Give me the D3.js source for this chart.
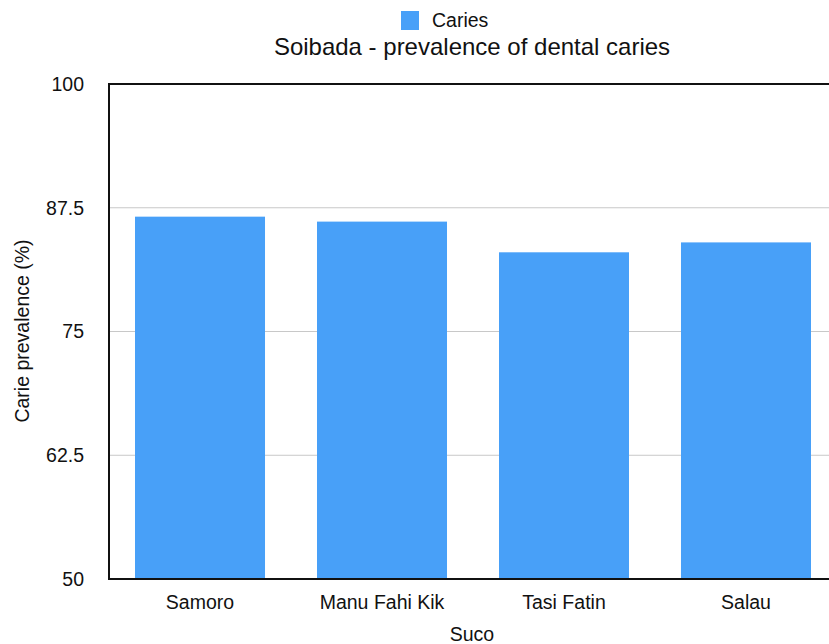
<!DOCTYPE html>
<html>
<head>
<meta charset="utf-8">
<script src="https://cdn.jsdelivr.net/npm/d3@7"></script>
<style>
  html, body { margin: 0; padding: 0; background: #fff; }
  svg { display: block; font-family: "Liberation Sans", Arial, Helvetica, sans-serif; }
</style>
</head>
<body>
<svg id="chart" width="829" height="644"></svg>
<script>
// Caries prevalence by suco, Soibada
const categories = ["Samoro", "Manu Fahi Kik", "Tasi Fatin", "Salau"];
const cariesValues = [86.6, 86.1, 83.0, 84.0];
const yTicks = [50, 62.5, 75, 87.5, 100];
const seriesName = "Caries";
const chartTitle = "Soibada - prevalence of dental caries";
const xTitle = "Suco";
const yTitle = "Carie prevalence (%)";

const svg = d3.select("#chart");
const plot = { left: 109, top: 84, right: 837, bottom: 579 };
const barColor = "#48a0f8";
const labelSize = 19.5;
const textColor = "#111";

const x = d3.scaleBand()
  .domain(categories)
  .range([plot.left, plot.right])
  .paddingInner(0.2857)
  .paddingOuter(0.1429);

const y = d3.scaleLinear()
  .domain([50, 100])
  .range([plot.bottom, plot.top]);

// horizontal gridlines
svg.append("g")
  .selectAll("line")
  .data(yTicks.filter(t => t > 50 && t < 100))
  .join("line")
  .attr("x1", plot.left)
  .attr("x2", plot.right)
  .attr("y1", d => y(d))
  .attr("y2", d => y(d))
  .attr("stroke", "#c8c8c8")
  .attr("stroke-width", 1);

// bars
svg.append("g")
  .selectAll("rect")
  .data(categories.map((c, i) => ({ c, v: cariesValues[i] })))
  .join("rect")
  .attr("x", d => x(d.c))
  .attr("width", x.bandwidth())
  .attr("y", d => y(d.v))
  .attr("height", d => y(50) - y(d.v))
  .attr("fill", barColor);

// plot frame: top, left, bottom
const frame = svg.append("g").attr("stroke", "#111").attr("stroke-width", 2);
frame.append("line").attr("x1", plot.left).attr("x2", plot.right).attr("y1", plot.top).attr("y2", plot.top);
frame.append("line").attr("x1", plot.left).attr("x2", plot.left).attr("y1", plot.top - 1).attr("y2", plot.bottom + 1);
frame.append("line").attr("x1", plot.left).attr("x2", plot.right).attr("y1", plot.bottom).attr("y2", plot.bottom);

// y axis labels
const yAxis = d3.axisLeft(y).tickValues(yTicks).tickSize(0).tickPadding(25).tickFormat(d => String(d));
svg.append("g")
  .attr("transform", `translate(${plot.left},0)`)
  .call(yAxis)
  .call(g => g.select(".domain").remove())
  .call(g => g.selectAll("text")
    .attr("font-size", labelSize)
    .attr("fill", textColor)
    .attr("font-family", "Liberation Sans, Arial, sans-serif"));

// x axis labels
const xAxis = d3.axisBottom(x).tickSize(0).tickPadding(16);
svg.append("g")
  .attr("transform", `translate(0,${plot.bottom})`)
  .call(xAxis)
  .call(g => g.select(".domain").remove())
  .call(g => g.selectAll("text")
    .attr("font-size", labelSize)
    .attr("fill", textColor)
    .attr("font-family", "Liberation Sans, Arial, sans-serif"));

// axis titles
svg.append("text")
  .attr("x", 472).attr("y", 641)
  .attr("text-anchor", "middle")
  .attr("font-size", labelSize).attr("fill", textColor)
  .text(xTitle);

svg.append("text")
  .attr("transform", "translate(29,331) rotate(-90)")
  .attr("text-anchor", "middle")
  .attr("font-size", labelSize).attr("fill", textColor)
  .text(yTitle);

// chart title
svg.append("text")
  .attr("x", 472).attr("y", 55)
  .attr("text-anchor", "middle")
  .attr("font-size", 24).attr("fill", textColor)
  .text(chartTitle);

// legend
const legend = svg.append("g");
legend.append("rect")
  .attr("x", 401).attr("y", 11).attr("width", 18).attr("height", 19)
  .attr("fill", barColor);
legend.append("text")
  .attr("x", 432).attr("y", 27)
  .attr("font-size", labelSize).attr("fill", textColor)
  .text(seriesName);
</script>
</body>
</html>
